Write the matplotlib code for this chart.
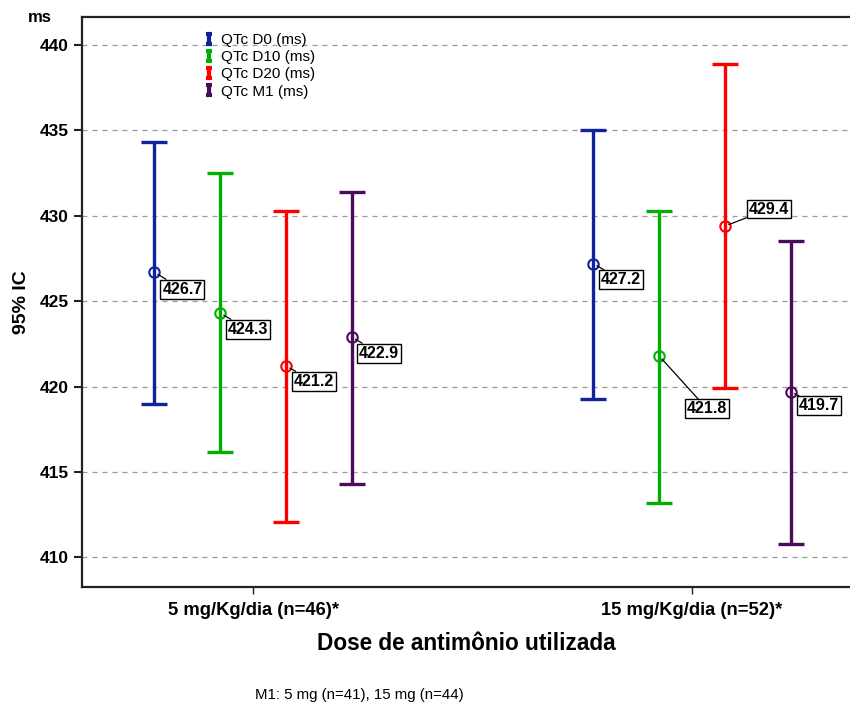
import matplotlib
matplotlib.use("Agg")
import matplotlib.pyplot as plt
from matplotlib.path import Path
from matplotlib.lines import Line2D
import numpy as np

plt.rcParams['font.family'] = ['Liberation Sans', 'DejaVu Sans']

# data
groups = ["5 mg/Kg/dia (n=46)*", "15 mg/Kg/dia (n=52)*"]
series = ["QTc D0 (ms)", "QTc D10 (ms)", "QTc D20 (ms)", "QTc M1 (ms)"]
colors = ["#10229c", "#00b000", "#ff0000", "#4a0c5a"]
means = [[426.7, 427.2], [424.3, 421.8], [421.2, 429.4], [422.9, 419.7]]
lower = [[419.0, 419.3], [416.2, 413.2], [412.1, 419.9], [414.3, 410.8]]
upper = [[434.3, 435.0], [432.5, 430.3], [430.3, 438.9], [431.4, 428.5]]
yticks = [410, 415, 420, 425, 430, 435, 440]

# label offsets (pixels) from the point, per series / group
lab_off = [[(28, -17), (28, -16)],
           [(28, -16), (48, -53)],
           [(28, -15), (44, 17)],
           [(27, -16), (28, -14)]]

fig = plt.figure(figsize=(8.5, 7.04), dpi=100)
ax = fig.add_axes([82/850, 1-587/704, 768/850, 570/704])

x = np.arange(len(groups))
offs = [-0.225, -0.075, 0.075, 0.225]

for i in range(len(series)):
    xs = x + offs[i]
    m = np.array(means[i])
    err = [m - np.array(lower[i]), np.array(upper[i]) - m]
    ax.errorbar(xs, m, yerr=err, fmt='none', ecolor=colors[i], elinewidth=2.4,
                capsize=9.5, capthick=2.4, zorder=3)
    ax.plot(xs, m, 'o', mfc='none', mec=colors[i], mew=1.5, ms=7.5, zorder=4)
    for j in range(len(groups)):
        dx, dy = lab_off[i][j]
        ax.annotate("%.1f" % m[j], (xs[j], m[j]), xytext=(dx*0.72, dy*0.72),
                    textcoords='offset points', ha='center', va='center',
                    fontsize=11.5, fontweight='bold',
                    bbox=dict(boxstyle='square,pad=0.12', fc='white', ec='black', lw=1),
                    arrowprops=dict(arrowstyle='-', color='black', lw=0.9,
                                    shrinkA=0, shrinkB=3), zorder=5)

ax.set_xlim(-0.39, 1.36)
ax.set_ylim(408.27, 441.64)
ax.set_yticks(yticks)
ax.set_xticks(x)
ax.set_xticklabels(groups, fontsize=13.2, fontweight='bold')
ax.tick_params(axis='y', labelsize=12.5, width=1.5, length=6, color='#222222')
ax.tick_params(axis='x', width=1, length=5, color='#222222', pad=6)
for t in ax.get_yticklabels():
    t.set_fontweight('bold')
ax.yaxis.grid(True, linestyle=(0, (4, 4)), color='#999999', lw=0.9)
ax.set_axisbelow(True)

ax.spines['right'].set_visible(False)
for s in ['left', 'top', 'bottom']:
    ax.spines[s].set_linewidth(1.6)
    ax.spines[s].set_color('#222222')

ax.set_xlabel("Dose de antimônio utilizada", fontsize=16.3, fontweight='bold', labelpad=9)
ax.set_ylabel("95% IC", fontsize=14, fontweight='bold', labelpad=7)
fig.text(40/850, 1-18/704, "ms", fontsize=12, fontweight='bold', ha='center', va='center')
fig.text(359/850, 1-695/704, "M1: 5 mg (n=41), 15 mg (n=44)", fontsize=10.8, ha='center', va='center')

# legend icons shaped like small error bars
ibar = Path([(-0.6, 1), (0.6, 1), (0, 1), (0, -1), (-0.6, -1), (0.6, -1)],
            [Path.MOVETO, Path.LINETO, Path.MOVETO, Path.LINETO, Path.MOVETO, Path.LINETO])
handles = [Line2D([], [], ls='none', marker=ibar, ms=7.5, mew=3, mec=c, mfc='none')
           for c in colors]
ax.legend(handles, series, loc='upper left', bbox_to_anchor=(0.152, 0.982), frameon=False,
          fontsize=11, handlelength=0.6, handletextpad=0.45, labelspacing=0.2,
          borderaxespad=0)

fig.savefig("out.png", dpi=100, facecolor='white')
